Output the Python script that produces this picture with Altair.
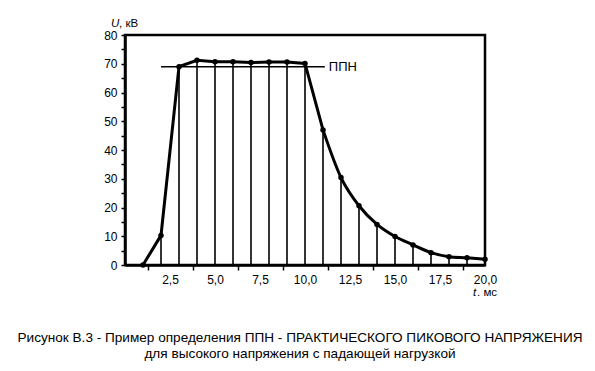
import altair as alt
import pandas as pd

# data
t_ms = [1, 2, 3, 4, 5, 6, 7, 8, 9, 10, 11, 12, 13, 14, 15, 16, 17, 18, 19, 20]
u_kv = [0, 10.3, 69, 71.2, 70.7, 70.7, 70.4, 70.6, 70.6, 70.1, 47, 30.4, 20.6, 14.1, 9.9, 7.0, 4.3, 2.9, 2.5, 2.0]
ppn_level = [69]
ppn_span = [2.0, 11.1]
ppn_label = ["ППН"]
x_tick_values = [1.25 * i for i in range(0, 17)]
y_tick_values = [5 * i for i in range(0, 17)]
caption = [
    "Рисунок В.3 - Пример определения ППН - ПРАКТИЧЕСКОГО ПИКОВОГО НАПРЯЖЕНИЯ",
    "для высокого напряжения с падающей нагрузкой",
]

df = pd.DataFrame({"t": t_ms, "u": u_kv, "zero": [0] * len(t_ms)})
rise = df[df.t <= 11]
decay = df[df.t >= 11]
ppn_df = pd.DataFrame({"x1": [ppn_span[0]], "x2": [ppn_span[1]], "y": ppn_level, "label": ppn_label})
one = pd.DataFrame({"k": [0]})

FONT = "Liberation Sans"

xscale = alt.Scale(domain=[0, 20], nice=False, zero=False)
yscale = alt.Scale(domain=[0, 80], nice=False)

x_axis = alt.Axis(
    values=x_tick_values,
    labelExpr="(datum.value % 2.5 === 0 && datum.value > 0) ? replace(format(datum.value, '.1f'), '.', ',') : ''",
    tickOpacity=alt.condition("datum.value % 2.5 === 0", alt.value(0), alt.value(1)),
    title=None, grid=False, tickSize=5, tickWidth=1.5, labelPadding=4,
    domainWidth=2.5, domainColor="black", tickColor="black", labelOverlap=False,
    labelFont=FONT, labelFontSize=12, labelColor="black", labelFlush=False,
)
y_axis = alt.Axis(
    values=y_tick_values,
    labelExpr="datum.value % 10 === 0 ? format(datum.value, 'd') : ''",
    title=None, grid=False, tickSize=4, tickWidth=1.5, labelPadding=4,
    domainWidth=2.5, domainColor="black", tickColor="black", labelOverlap=False,
    labelFont=FONT, labelFontSize=12, labelColor="black", labelFlush=False,
)

X = lambda f: alt.X(f, scale=xscale, axis=x_axis)
Y = lambda f: alt.Y(f, scale=yscale, axis=y_axis)

stems = alt.Chart(df).mark_rule(color="black", strokeWidth=1.6).encode(
    x=X("t:Q"), y=Y("u:Q"), y2="zero:Q",
)
line_rise = alt.Chart(rise).mark_line(color="black", strokeWidth=3).encode(
    x=X("t:Q"), y=Y("u:Q")
)
line_decay = alt.Chart(decay).mark_line(color="black", strokeWidth=3, interpolate="monotone").encode(
    x=X("t:Q"), y=Y("u:Q")
)
points = alt.Chart(df).mark_circle(color="black", opacity=1, size=30).encode(
    x=X("t:Q"), y=Y("u:Q")
)
ppn_rule = alt.Chart(ppn_df).mark_rule(color="black", strokeWidth=1.5).encode(
    x=X("x1:Q"), x2="x2:Q", y=Y("y:Q")
)
ppn_text = alt.Chart(ppn_df).mark_text(
    align="left", baseline="middle", dx=4, font=FONT, fontSize=13, color="black"
).encode(x=X("x2:Q"), y=Y("y:Q"), text="label:N")


def label(txt, x, y, size=12, italic=False, align="left"):
    kw = dict(align=align, baseline="middle", font=FONT, fontSize=size, color="black")
    if italic:
        kw["fontStyle"] = "italic"
    return alt.Chart(one).mark_text(**kw).encode(
        x=alt.value(x), y=alt.value(y), text=alt.value(txt)
    )


u_title = label("U", -14, -11, size=11.5, italic=True)
u_title2 = label(", кВ", -6, -11, size=11.5)
t_title = label("t", 348, 258, size=11.5, italic=True)
t_title2 = label(". мс", 352, 258, size=11.5)
cap1 = label(caption[0], 175, 303, size=13.6, align="center")
cap2 = label(caption[1], 175, 319, size=13.6, align="center")

chart = alt.layer(
    stems, line_rise, line_decay, points, ppn_rule, ppn_text,
    u_title, u_title2, t_title, t_title2, cap1, cap2,
).properties(
    width=360, height=230,
    autosize=alt.AutoSizeParams(type="none"),
    padding={"left": 117, "top": 27, "right": 102, "bottom": 98},
    background="white",
).configure_view(
    stroke="black", strokeWidth=2.5
).configure_axis(
    labelOverlap=False
)

chart.save("out.html", embed_options={"renderer": "svg", "actions": False})
